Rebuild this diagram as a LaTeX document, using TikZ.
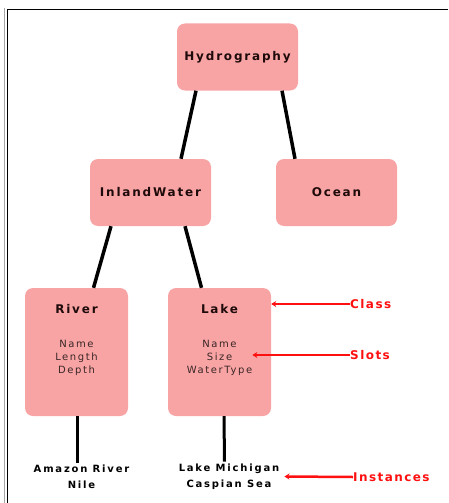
\documentclass[tikz,border=0pt]{standalone}
\usepackage{fontspec}
\usetikzlibrary{arrows.meta,positioning}
\newfontfamily\boxfont[LetterSpace=15]{DejaVu Sans}
\newfontfamily\slotfont[LetterSpace=16]{DejaVu Sans}
\newfontfamily\instfont[LetterSpace=18]{DejaVu Sans}
\newfontfamily\notefont[LetterSpace=12]{DejaVu Sans}
\definecolor{classbg}{HTML}{F8A4A4}
\definecolor{slotink}{HTML}{3A2626}
\definecolor{titleink}{HTML}{1E0A0A}
\definecolor{noteink}{HTML}{FF1010}

\tikzset{
  topbox/.style={fill=classbg, rounded corners=8pt, minimum width=121pt,
    minimum height=67pt, inner sep=0pt, font=\boxfont\bfseries\fontsize{12}{14}\selectfont,
    text=titleink},
  classbox/.style={fill=classbg, rounded corners=8pt, minimum width=103pt,
    minimum height=128pt, inner sep=0pt},
  slots/.style={align=center, inner sep=2pt, text=slotink,
    font=\slotfont\fontsize{10}{13}\selectfont},
  instances/.style={align=center, inner sep=2pt,
    font=\instfont\bfseries\fontsize{10}{15.5}\selectfont},
  note/.style={anchor=west, inner sep=0pt, text=noteink,
    font=\notefont\bfseries\fontsize{12}{14}\selectfont},
  link/.style={line width=3.5pt},
  pointer/.style={noteink, line width=2.5pt, -{Stealth[length=5pt,width=6pt]}}
}

\begin{document}
\begin{tikzpicture}[x=1pt, y=-1pt]
  \useasboundingbox (0,0) rectangle (448,503);
  % frame
  \draw[gray!70, line width=1.2pt] (4.5,503) -- (4.5,8);
  \draw[line width=1.5pt] (7.5,503) -- (7.5,9.5) -- (448,9.5);

  \node[topbox] (hydro) at (237.5,57) {Hydrography};
  \node[topbox] (inland) at (150.5,192.5) {InlandWater};
  \node[topbox] (ocean) at (336.5,192.5) {Ocean};

  \node[classbox] (river) at (76.5,352) {};
  \node[classbox] (lake) at (219.5,352) {};
  \node[topbox, fill=none, minimum width=0pt, minimum height=0pt,
    below=21pt of river.north, anchor=center] (rivertitle) {River};
  \node[topbox, fill=none, minimum width=0pt, minimum height=0pt,
    below=21pt of lake.north, anchor=center] (laketitle) {Lake};
  \node[slots, below=50pt of river.north, anchor=north] (riverslots)
    {Name\\Length\\Depth};
  \node[slots, below=50pt of lake.north, anchor=north] (lakeslots)
    {Name\\Size\\WaterType};

  \node[instances] (riverinst) at (81.5,477) {Amazon River\\Nile};
  \node[instances] (lakeinst) at (229,476.5) {Lake Michigan\\Caspian Sea};

  % tree links
  \draw[link] ([xshift=-41.5pt]hydro.south) -- ([xshift=30.5pt]inland.north);
  \draw[link] ([xshift=44.5pt]hydro.south) -- ([xshift=-41.5pt]ocean.north);
  \draw[link] ([xshift=-39.5pt]inland.south) -- ([xshift=17pt]river.north);
  \draw[link] ([xshift=34.5pt]inland.south) -- ([xshift=-18pt]lake.north);
  \draw[line width=3pt] (river.south) ++(0.5,0) coordinate (riverfoot) -- (riverfoot |- riverinst.north);
  \draw[line width=3pt] ([xshift=4.5pt]lake.south) -- ([xshift=-4.5pt]lakeinst.north);

  % notes
  \node[note] (classnote) at (350,304) {Class};
  \node[note] (slotnote) at (350,355) {Slots};
  \node[note] (instnote) at (353,477) {Instances};
  \draw[pointer] (classnote.west) -- (classnote.west -| lake.east);
  \draw[pointer] (slotnote.west) -- ([xshift=-2pt]slotnote.west -| lakeslots.east);
  \draw[pointer] (instnote.west) -- ([xshift=3pt]lakeinst.east);
\end{tikzpicture}
\end{document}
